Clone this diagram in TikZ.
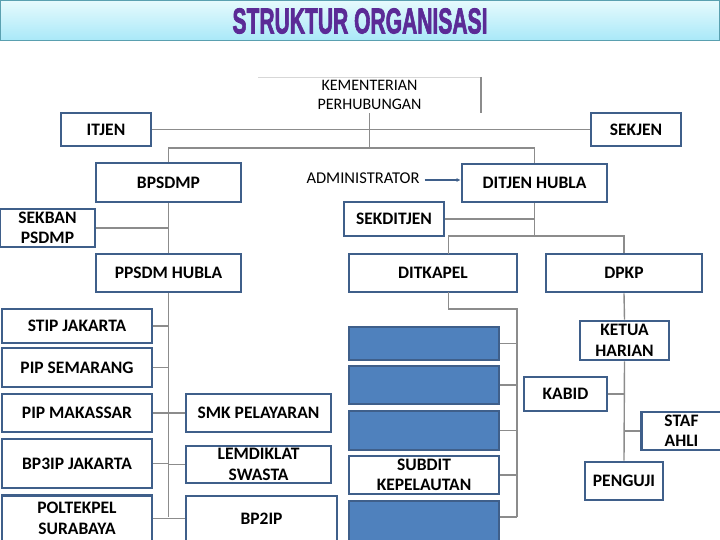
\documentclass[tikz,border=0pt]{standalone}
\usepackage{fontspec}
\setmainfont{Carlito}
\newfontfamily\titlefont[BoldFeatures={FakeBold=2.5}]{Liberation Sans}
\usetikzlibrary{arrows.meta}
\definecolor{boxborder}{HTML}{3F5F8A}
\definecolor{bluefill}{HTML}{4F81BD}
\definecolor{conn}{HTML}{8C8C8C}
\definecolor{titlepurple}{HTML}{5B2A96}
\tikzset{
  orgbox/.style={draw=boxborder, line width=2.8pt, fill=white, align=center,
    inner sep=1pt, font=\bfseries\fontsize{17.5}{19.5}\selectfont},
  twoline/.style={font=\bfseries\fontsize{17.5}{20.5}\selectfont},
  bluebox/.style={draw=boxborder, line width=1.8pt, fill=bluefill},
  link/.style={draw=conn, line width=1.4pt},
}
\begin{document}
\begin{tikzpicture}[x=1pt,y=-1pt]
\useasboundingbox (0,0) rectangle (720,540);
\fill[white] (0,0) rectangle (720,540);
% title bar
\shade[top color={rgb,255:red,230;green,250;blue,253}, bottom color={rgb,255:red,168;green,232;blue,248}] (0.5,0.5) rectangle (719.5,41);
\draw[draw={rgb,255:red,90;green,160;blue,176}, line width=1pt] (0.5,0.5) rectangle (719.5,41);
\node[text=titlepurple, inner sep=0pt] (title) at (360,21) {\resizebox{255pt}{25pt}{\titlefont\bfseries STRUKTUR ORGANISASI}};

% top
\node[draw=none, fill=white, minimum width=223pt, minimum height=36pt, align=center, inner sep=0pt,
  font=\fontsize{16}{18.5}\selectfont] (kem) at (369.5,95) {KEMENTERIAN\\PERHUBUNGAN};
\draw[draw={rgb,255:red,215;green,215;blue,215}, line width=0.8pt] (258,77) -- (481,77);
\draw[draw={rgb,255:red,140;green,140;blue,140}, line width=1.2pt] (481,77) -- (481,113);

\node[orgbox, minimum width=90pt, minimum height=33pt] (itjen) at (106,129.5) {ITJEN};
\node[orgbox, minimum width=90pt, minimum height=33pt] (sekjen) at (636,129.5) {SEKJEN};
\node[orgbox, minimum width=145pt, minimum height=39pt] (bpsdmp) at (168.5,182.5) {BPSDMP};
\node[orgbox, minimum width=145pt, minimum height=38pt] (ditjen) at (534.5,183) {DITJEN HUBLA};
\node[inner sep=1pt, font=\fontsize{16.5}{18}\selectfont] (admin) at (363,178) {ADMINISTRATOR};
\node[orgbox, twoline, minimum width=95pt, minimum height=38pt] (sekban) at (47.5,228) {SEKBAN\\PSDMP};
\node[orgbox, minimum width=100pt, minimum height=34pt] (sekditjen) at (394,219) {SEKDITJEN};
\node[orgbox, minimum width=145pt, minimum height=38pt] (ppsdm) at (168.5,273) {PPSDM HUBLA};
\node[orgbox, minimum width=168pt, minimum height=38pt] (ditkapel) at (433,273) {DITKAPEL};
\node[orgbox, minimum width=156pt, minimum height=38pt] (dpkp) at (624,273) {DPKP};

% left column
\node[orgbox, minimum width=150pt, minimum height=34pt] (stip) at (77,326) {STIP JAKARTA};
\node[orgbox, minimum width=150pt, minimum height=39pt] (semarang) at (77,367.5) {PIP SEMARANG};
\node[orgbox, minimum width=150pt, minimum height=38pt] (makassar) at (77,413) {PIP MAKASSAR};
\node[orgbox, minimum width=150pt, minimum height=49pt] (bp3ip) at (77,463.5) {BP3IP JAKARTA};
\node[orgbox, twoline, minimum width=150pt, minimum height=46pt] (poltek) at (77,518.5) {POLTEKPEL\\SURABAYA};
\node[orgbox, minimum width=145pt, minimum height=38pt] (smk) at (258.5,413) {SMK PELAYARAN};
\node[orgbox, twoline, minimum width=145pt, minimum height=37pt] (lemdiklat) at (258.5,464.5) {LEMDIKLAT\\SWASTA};
\node[orgbox, minimum width=151pt, minimum height=46pt] (bp2ip) at (261.5,519) {BP2IP};

% middle column
\node[bluebox, minimum width=150pt, minimum height=33pt] (blue1) at (424,343.5) {};
\node[bluebox, minimum width=150pt, minimum height=38pt] (blue2) at (424,385) {};
\node[bluebox, minimum width=150pt, minimum height=39pt] (blue3) at (424,430.5) {};
\node[orgbox, twoline, minimum width=150pt, minimum height=38pt] (subdit) at (424,475) {SUBDIT\\KEPELAUTAN};
\node[bluebox, minimum width=150pt, minimum height=42pt] (blue5) at (424,522) {};

% right column
\node[orgbox, twoline, minimum width=89pt, minimum height=39pt] (ketua) at (624.5,340.5) {KETUA\\HARIAN};
\node[orgbox, minimum width=83pt, minimum height=34pt] (kabid) at (565.5,394) {KABID};
\node[orgbox, twoline, minimum width=80pt, minimum height=38pt] (staf) at (681.5,431) {STAF\\AHLI};
\node[orgbox, minimum width=78pt, minimum height=38pt] (penguji) at (624,481) {PENGUJI};

% connectors
\coordinate (j1) at (369.5,148);
\coordinate (j2) at (534.5,236);
\coordinate (dk) at (448.5,253.5);
\coordinate (dkb) at (448.5,292);
\coordinate (j3) at (517,309);
\coordinate (j4) at (517,517);
\coordinate (pend) at (168.5,517);
\draw[link] (itjen.east) -- (sekjen.west);
\draw[link] (kem.south) -- (j1);
\draw[link] (bpsdmp.north) |- (j1) -| (ditjen.north);
\draw[link] (bpsdmp.south) -- (ppsdm.north);
\draw[link] (sekban.east) -- (sekban.east -| bpsdmp.south);
\draw[link] (ditjen.south) -- (j2);
\draw[link] (sekditjen.east) -- (sekditjen.east -| ditjen.south);
\draw[link] (dk) |- (j2) -| (dpkp.north);
\draw[draw=boxborder, line width=1.4pt, shorten <=4pt, -{Latex[length=4pt,width=4pt]}] (admin.east |- 0,180) -- (ditjen.west |- 0,180);

\draw[link] (ppsdm.south) -- (pend);
\draw[link] (stip.east) -- (stip.east -| ppsdm.south);
\draw[link] (semarang.east) -- (semarang.east -| ppsdm.south);
\draw[link] (makassar.east) -- (smk.west);
\draw[link] (bp3ip.east) -- (bp3ip.east -| ppsdm.south);
\draw[link] (lemdiklat.west) -- (lemdiklat.west -| ppsdm.south);
\draw[link] (poltek.east) -- (poltek.east -| bp2ip.west);

\draw[link] (dkb) |- (j3) -- (j4);
\draw[link] (blue1.east) -- (blue1.east -| j3);
\draw[link] (blue2.east) -- (blue2.east -| j3);
\draw[link] (blue3.east) -- (blue3.east -| j3);
\draw[link] (subdit.east) -- (subdit.east -| j3);
\draw[link] (j4) -- (j4 -| blue5.east);

\draw[link] (dpkp.south) -- (ketua.north);
\draw[link] (ketua.south) -- (penguji.north);
\draw[link] (kabid.east) -- (kabid.east -| ketua.south);
\draw[link] (staf.west) -- (staf.west -| ketua.south);
\end{tikzpicture}
\end{document}
